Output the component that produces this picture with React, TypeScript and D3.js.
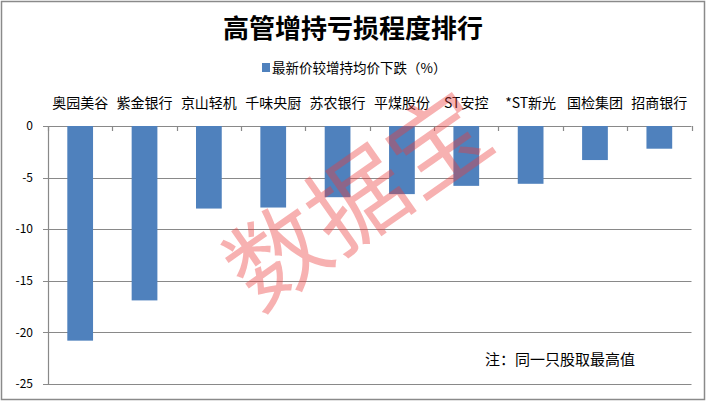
import { useEffect, useRef } from "react";
import * as d3 from "d3";

const stocks = [
  "奥园美谷",
  "紫金银行",
  "京山轻机",
  "千味央厨",
  "苏农银行",
  "平煤股份",
  "ST安控",
  "*ST新光",
  "国检集团",
  "招商银行",
];

// 最新价较增持均价下跌（%）
const drops = [-20.8, -16.9, -8.0, -7.9, -6.9, -6.6, -5.8, -5.6, -3.3, -2.2];

const yTicks = [0, -5, -10, -15, -20, -25];

const title = "高管增持亏损程度排行";
const seriesName = "最新价较增持均价下跌（%）";
const note = "注：同一只股取最高值";
const watermark = "数据宝";

export default function App() {
  const ref = useRef<SVGSVGElement | null>(null);

  useEffect(() => {
    if (!ref.current) return;

    const svg = d3.select(ref.current);
    svg.selectAll("*").remove();

    const width = 707;
    const height = 401;
    const margin = { top: 126, right: 16, bottom: 17, left: 48 };
    const font = "'Noto Sans CJK SC', 'Noto Sans', sans-serif";
    const barColor = "#4f81bd";
    const gridColor = "#898989";

    svg.append("rect")
      .attr("x", 0)
      .attr("y", 0)
      .attr("width", width)
      .attr("height", height)
      .attr("fill", "#fff");

    // outer frame
    svg.append("rect")
      .attr("x", 1.5)
      .attr("y", 1.5)
      .attr("width", 703)
      .attr("height", 398)
      .attr("fill", "none")
      .attr("stroke", "#8a8a8a")
      .attr("stroke-width", 1.5);

    const x = d3
      .scaleBand()
      .domain(stocks)
      .range([margin.left, width - margin.right + 0.5])
      .paddingInner(0.6)
      .paddingOuter(0.3);

    const y = d3
      .scaleLinear()
      .domain([0, -25])
      .range([margin.top, height - margin.bottom]);

    const step = x.step();
    const x0 = margin.left;
    const x1 = width - margin.right + 0.5;

    // gridlines
    svg.append("g")
      .selectAll("line")
      .data(yTicks)
      .join("line")
      .attr("x1", x0 - 5)
      .attr("x2", x1)
      .attr("y1", (d) => Math.round(y(d)) + 0.5)
      .attr("y2", (d) => Math.round(y(d)) + 0.5)
      .attr("stroke", gridColor)
      .attr("stroke-width", 1.2);

    // y axis line
    svg.append("line")
      .attr("x1", x0 + 0.5)
      .attr("x2", x0 + 0.5)
      .attr("y1", y(0))
      .attr("y2", y(-25))
      .attr("stroke", gridColor)
      .attr("stroke-width", 1.2);

    // y labels
    svg.append("g")
      .selectAll("text")
      .data(yTicks)
      .join("text")
      .attr("x", 33)
      .attr("y", (d) => y(d))
      .attr("dy", "0.35em")
      .attr("text-anchor", "end")
      .attr("font-family", font)
      .attr("font-size", 12)
      .attr("fill", "#000")
      .text((d) => d3.format("d")(d).replace("−", "-"));

    // bars
    svg.append("g")
      .selectAll("rect")
      .data(drops)
      .join("rect")
      .attr("x", (_, i) => x(stocks[i])!)
      .attr("y", y(0))
      .attr("width", x.bandwidth())
      .attr("height", (d) => y(d) - y(0))
      .attr("fill", barColor);

    // category ticks at band boundaries
    svg.append("g")
      .selectAll("line")
      .data(d3.range(stocks.length + 1))
      .join("line")
      .attr("x1", (i) => Math.round(x0 + i * step) + 0.5)
      .attr("x2", (i) => Math.round(x0 + i * step) + 0.5)
      .attr("y1", y(0))
      .attr("y2", y(0) + 5)
      .attr("stroke", gridColor)
      .attr("stroke-width", 1.2);

    // category labels above the plot
    svg.append("g")
      .selectAll("text")
      .data(stocks)
      .join("text")
      .attr("x", (d) => x(d)! + x.bandwidth() / 2)
      .attr("y", 103)
      .attr("dy", "0.35em")
      .attr("text-anchor", "middle")
      .attr("font-family", font)
      .attr("font-size", 14)
      .attr("fill", "#000")
      .text((d) => d);

    // title
    svg.append("text")
      .attr("x", 353)
      .attr("y", 29)
      .attr("dy", "0.36em")
      .attr("text-anchor", "middle")
      .attr("font-family", font)
      .attr("font-size", 26)
      .attr("font-weight", "bold")
      .attr("fill", "#000")
      .text(title);

    // legend
    svg.append("rect")
      .attr("x", 262)
      .attr("y", 63)
      .attr("width", 8)
      .attr("height", 9)
      .attr("fill", barColor);
    svg.append("text")
      .attr("x", 272)
      .attr("y", 68)
      .attr("dy", "0.35em")
      .attr("font-family", font)
      .attr("font-size", 13.5)
      .attr("fill", "#000")
      .text(seriesName);

    // note
    svg.append("text")
      .attr("x", 485)
      .attr("y", 360)
      .attr("dy", "0.35em")
      .attr("font-family", font)
      .attr("font-size", 15)
      .attr("fill", "#000")
      .text(note);

    // watermark
    svg.append("text")
      .attr("transform", "translate(358,200) rotate(-35)")
      .attr("text-anchor", "middle")
      .attr("dy", "0.36em")
      .attr("font-family", font)
      .attr("font-size", 98)
      .attr("fill", "rgb(236,60,60)")
      .attr("fill-opacity", 0.4)
      .text(watermark);
  }, []);

  return (
    <svg
      ref={ref}
      width={707}
      height={401}
      style={{ position: "absolute", left: 0, top: 0, display: "block" }}
    />
  );
}
